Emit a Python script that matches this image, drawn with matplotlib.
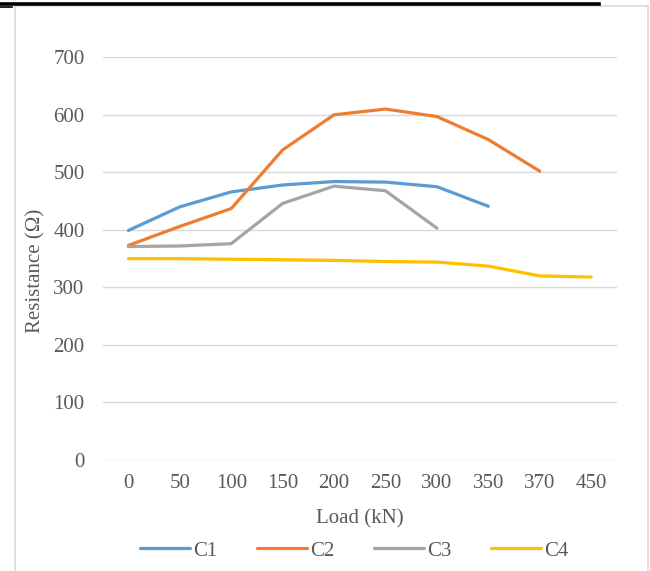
import matplotlib.pyplot as plt
import numpy as np
from matplotlib.patches import Rectangle
from matplotlib.lines import Line2D

plt.rcParams['font.family'] = ['Liberation Serif', 'DejaVu Serif']

loads = ['0', '50', '100', '150', '200', '250', '300', '350', '370', '450']
c1 = [399, 440, 466, 478, 484, 483, 475, 441]
c2 = [373, 406, 437, 539, 600, 610, 597, 557, 502]
c3 = [371, 372, 376, 446, 476, 468, 403]
c4 = [350, 350, 349, 348, 347, 345, 344, 337, 320, 318]

series = [('C1', c1, '#5B9BD5'), ('C2', c2, '#ED7D31'),
          ('C3', c3, '#A5A5A5'), ('C4', c4, '#FFC000')]

fig = plt.figure(figsize=(6.5, 5.71), dpi=100)
ax = fig.add_axes([0.158, 0.1944, 0.791, 0.7053])

X = np.arange(len(loads))
for name, vals, col in series:
    ax.plot(X[:len(vals)], vals, color=col, linewidth=2.3, label=name,
            solid_capstyle='round')

ax.set_xlim(-0.5, len(loads) - 0.5)
ax.set_ylim(0, 700)
ax.set_yticks(range(0, 701, 100))
ax.set_xticks(X)
ax.set_xticklabels(loads)
ax.grid(axis='y', color='#D9D9D9', linewidth=1)
ax.set_axisbelow(True)
for s in ax.spines.values():
    s.set_visible(False)
ax.tick_params(length=0, labelsize=15, labelcolor='#595959')
ax.tick_params(axis='x', pad=10)
ax.tick_params(axis='y', pad=13)

ax.set_xlabel('Load (kN)', fontsize=15, color='#595959', labelpad=12)
ax.set_ylabel('Resistance (Ω)', fontsize=15, color='#595959')
ax.yaxis.set_label_coords(-0.112, 0.47)

ax.legend(loc='upper center', bbox_to_anchor=(0.49, -0.155), ncol=4,
          frameon=False, fontsize=15, labelcolor='#595959',
          handlelength=2.4, columnspacing=1.9, handletextpad=0.15)

# chart border and the cut-off rule above
fig.patches.append(Rectangle((15 / 650, -0.01), 633 / 650, 1 - 6 / 571 + 0.01,
                             transform=fig.transFigure, fill=False,
                             edgecolor='#D9D9D9', linewidth=1.2))
fig.lines.append(Line2D([0, 599 / 650], [1 - 4.2 / 571, 1 - 4.2 / 571],
                        transform=fig.transFigure, color='black', linewidth=2.6))
fig.lines.append(Line2D([0, 12 / 650], [1 - 6.8 / 571, 1 - 6.8 / 571],
                        transform=fig.transFigure, color='black', linewidth=1.2))

fig.savefig('out.png', dpi=100)
